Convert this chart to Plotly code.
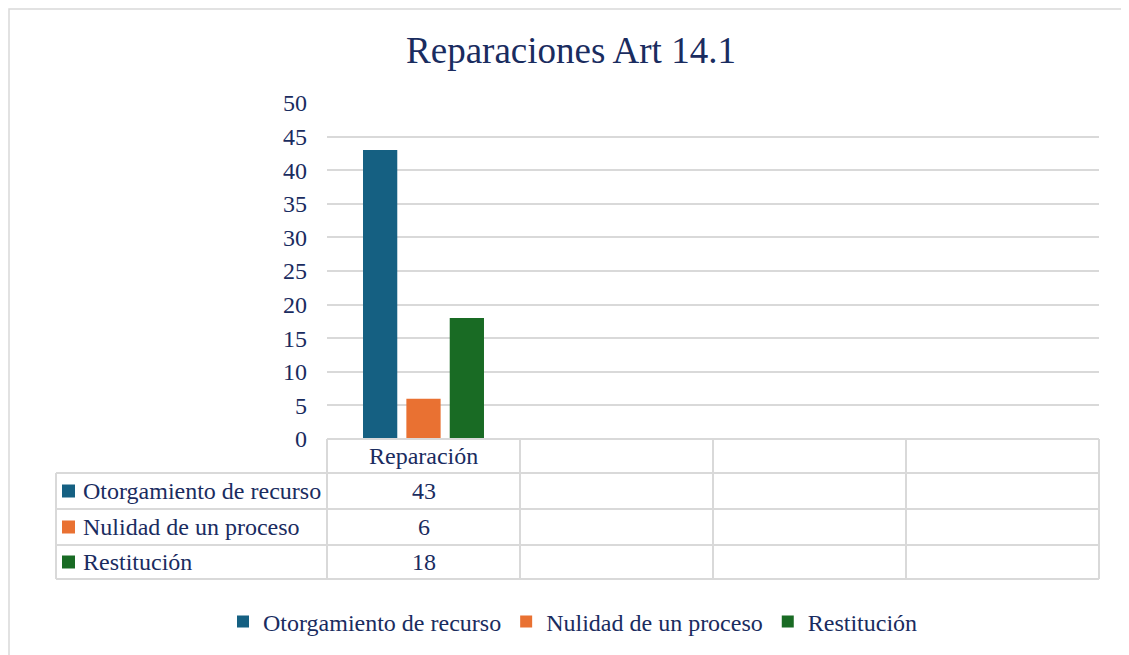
import plotly.graph_objects as go

# ---- data ----
categories = ["Reparación"]
n_table_columns = 4
series_names = ["Otorgamiento de recurso", "Nulidad de un proceso", "Restitución"]
series_values = [[43], [6], [18]]
series_colors = ["#156082", "#E97132", "#196B24"]
y_ticks = list(range(0, 51, 5))

TEXT = "#1A2C5F"
GRID = "#D9D9D9"
FONT = "Liberation Serif"

W, H = 1129, 655
OFF = 8  # page offset of the figure in the screenshot
L, R, T, B = 327 - OFF, 38, 103 - OFF, 224
PW = W - L - R
PH = H - T - B


def px_x(px):
    return (px - OFF - L) / PW


def px_y(py):
    return (H - B - (py - OFF)) / PH


fig = go.Figure()
for name, vals, col in zip(series_names, series_values, series_colors):
    fig.add_trace(go.Bar(x=categories, y=vals, name=name, marker_color=col,
                         marker_line_width=0))

shapes = []
line = dict(color=GRID, width=2)
# outer chart border
shapes.append(dict(type="rect", xref="paper", yref="paper",
                   x0=px_x(OFF + 1), x1=px_x(1150), y0=px_y(680), y1=px_y(OFF + 1),
                   line=dict(color=GRID, width=1.5), fillcolor="rgba(0,0,0,0)"))
# table horizontal lines
row_lines = [439, 473, 509, 545, 579]
for i, yy in enumerate(row_lines):
    x0 = 0 if i == 0 else px_x(56)
    shapes.append(dict(type="line", xref="paper", yref="paper",
                       x0=x0, x1=1, y0=px_y(yy), y1=px_y(yy), line=line))
# vertical lines of data columns
for k in range(n_table_columns + 1):
    xx = k / n_table_columns
    shapes.append(dict(type="line", xref="paper", yref="paper",
                       x0=xx, x1=xx, y0=px_y(439), y1=px_y(579), line=line))
# left edge of row-label column
shapes.append(dict(type="line", xref="paper", yref="paper",
                   x0=px_x(56), x1=px_x(56), y0=px_y(473), y1=px_y(579), line=line))

annotations = []
# header
for c in categories:
    annotations.append(dict(x=c, xref="x", y=px_y(456), yref="paper", text=c,
                            showarrow=False, font=dict(size=24, color=TEXT, family=FONT),
                            xanchor="center", yanchor="middle"))
row_centers = [491, 527, 562]
for name, vals, col, yc in zip(series_names, series_values, series_colors, row_centers):
    shapes.append(dict(type="rect", xref="paper", yref="paper",
                       x0=px_x(62), x1=px_x(75), y0=px_y(yc + 6.5), y1=px_y(yc - 6.5),
                       line=dict(width=0), fillcolor=col))
    annotations.append(dict(x=px_x(81), xref="paper", y=px_y(yc), yref="paper", text=name,
                            showarrow=False, font=dict(size=24, color=TEXT, family=FONT),
                            xanchor="left", yanchor="middle"))
    for c, v in zip(categories, vals):
        annotations.append(dict(x=c, xref="x", y=px_y(yc), yref="paper", text=str(v),
                                showarrow=False, font=dict(size=24, color=TEXT, family=FONT),
                                xanchor="center", yanchor="middle"))

fig.update_layout(
    width=W, height=H,
    margin=dict(l=L, r=R, t=T, b=B, autoexpand=False),
    paper_bgcolor="white", plot_bgcolor="white",
    title=dict(text="Reparaciones Art 14.1", x=(571 - OFF) / W, xref="container",
               xanchor="center", y=1 - (50 - OFF) / H, yanchor="middle",
               font=dict(size=37, color=TEXT, family=FONT)),
    barmode="group", bargap=0.326, bargroupgap=0.21,
    showlegend=True,
    legend=dict(orientation="h", x=(573 - OFF) / W, xanchor="center", xref="container",
                y=1 - (622 - OFF) / H, yref="container", yanchor="middle",
                font=dict(size=24, color=TEXT, family=FONT)),
    shapes=shapes, annotations=annotations,
)
fig.update_xaxes(type="category", range=[-0.5, n_table_columns - 0.5],
                 showticklabels=False, showgrid=False, zeroline=False, showline=False,
                 fixedrange=True)
fig.update_yaxes(range=[0, 50], tickvals=y_ticks, showgrid=True, gridcolor=GRID, gridwidth=2,
                 zeroline=False, showline=False, ticks="", ticklabelstandoff=19,
                 tickfont=dict(size=24, color=TEXT, family=FONT))

fig.write_html("out.html")
